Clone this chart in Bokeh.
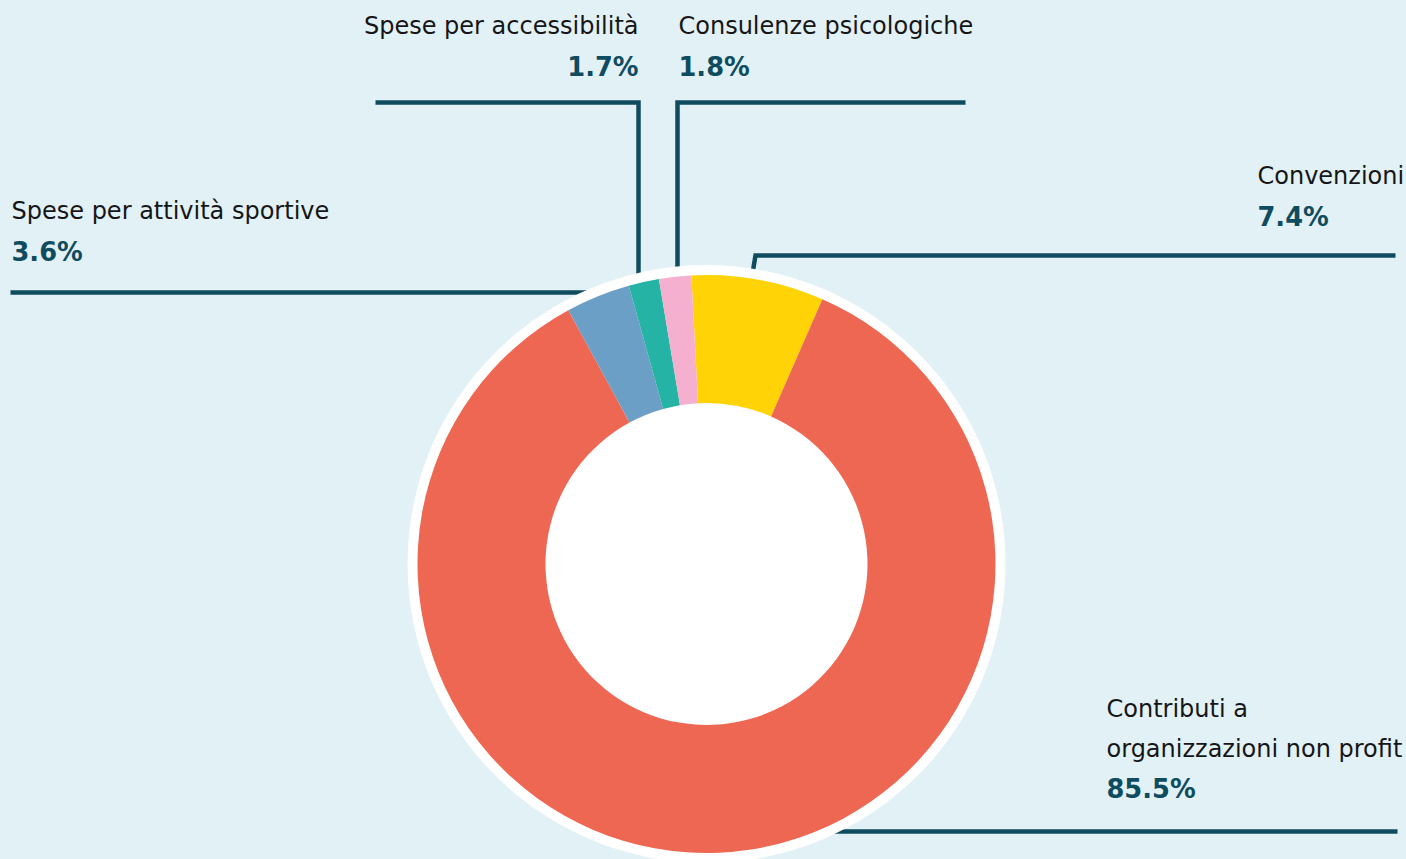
import math
from bokeh.plotting import figure
from bokeh.models import Range1d, ColumnDataSource
from bokeh.core.properties import value
from bokeh.embed import file_html
from bokeh.resources import INLINE

# ---------------- data ----------------
categories = ["Convenzioni", "Contributi a organizzazioni non profit",
              "Spese per attività sportive", "Spese per accessibilità",
              "Consulenze psicologiche"]
values = [7.4, 85.5, 3.6, 1.7, 1.8]
colors = ["#FFD306", "#EE6752", "#6C9FC5", "#25B3A5", "#F5B0D0"]

# ---------------- layout ----------------
W, H = 1406, 859
BG = "#E2F1F6"
DARK = "#0F4C5F"
TXT = "#161616"
FONT = value("DejaVu Sans")
CX, CY = 706, 563.5          # pixel centre
R_OUT, R_IN, R_RING = 289, 161, 299
START_CW = -3.0              # degrees clockwise from 12 o'clock
SHIFT = 9.5                  # baseline correction

def Y(py):
    return H - py

p = figure(width=W, height=H, x_range=Range1d(0, W), y_range=Range1d(0, H),
           output_backend="svg", toolbar_location=None, min_border=0,
           background_fill_color=BG, border_fill_color=BG, outline_line_color=None)
p.axis.visible = False
p.grid.visible = False

# leader lines (drawn first, partly hidden under the ring)
leaders = [
    [(10, 292), (595, 292)],                       # sportive
    [(375, 102), (638, 102), (638, 279)],          # accessibilità
    [(965, 102), (677, 102), (677, 279)],          # psicologiche
    [(1395, 255), (755, 255), (751, 279)],         # convenzioni
    [(1397, 831), (828, 831)],                     # contributi
]
p.multi_line(xs=[[pt[0] for pt in l] for l in leaders],
             ys=[[Y(pt[1]) for pt in l] for l in leaders],
             line_color=DARK, line_width=4.5, line_join="miter", line_cap="butt")

# white ring behind the donut
p.circle(x=[CX], y=[Y(CY)], radius=R_RING, fill_color="white", line_color=None)

# donut slices
total = sum(values)
starts, ends = [], []
acc = START_CW
for v in values:
    a0 = acc
    a1 = acc + v / total * 360.0
    starts.append(math.radians(90 - a1))
    ends.append(math.radians(90 - a0))
    acc = a1
src = ColumnDataSource(dict(start=starts, end=ends, color=colors))
p.annular_wedge(x=CX, y=Y(CY), inner_radius=R_IN, outer_radius=R_OUT,
                start_angle="start", end_angle="end", fill_color="color",
                line_color=None, source=src)

# labels: (category index, x, name baselines, pct baseline, align, lines)
label_layout = [
    (2, 11, [219.5], 261, "left", ["Spese per attività sportive"]),
    (3, 638, [35], 76, "right", ["Spese per accessibilità"]),
    (4, 678, [35], 76, "left", ["Consulenze psicologiche"]),
    (0, 1257, [185], 225.5, "left", ["Convenzioni"]),
    (1, 1106, [718, 758], 798, "left", ["Contributi a", "organizzazioni non profit"]),
]
for idx, x, name_bl, pct_bl, align, lines in label_layout:
    p.text(x=[x] * len(lines), y=[Y(b - SHIFT) for b in name_bl], text=lines,
           text_font=FONT, text_font_size="24px", text_color=TXT,
           text_align=align, text_baseline="alphabetic")
    p.text(x=[x], y=[Y(pct_bl - SHIFT)], text=[f"{values[idx]:.1f}%"],
           text_font=FONT, text_font_size="25.7px", text_font_style="bold",
           text_color=DARK, text_align=align, text_baseline="alphabetic")

html = file_html(p, INLINE)
html = html.replace("</head>",
                    "<style>html,body{margin:0;padding:0;overflow:hidden;background:%s;}</style></head>" % BG, 1)
open("out.html", "w").write(html)
